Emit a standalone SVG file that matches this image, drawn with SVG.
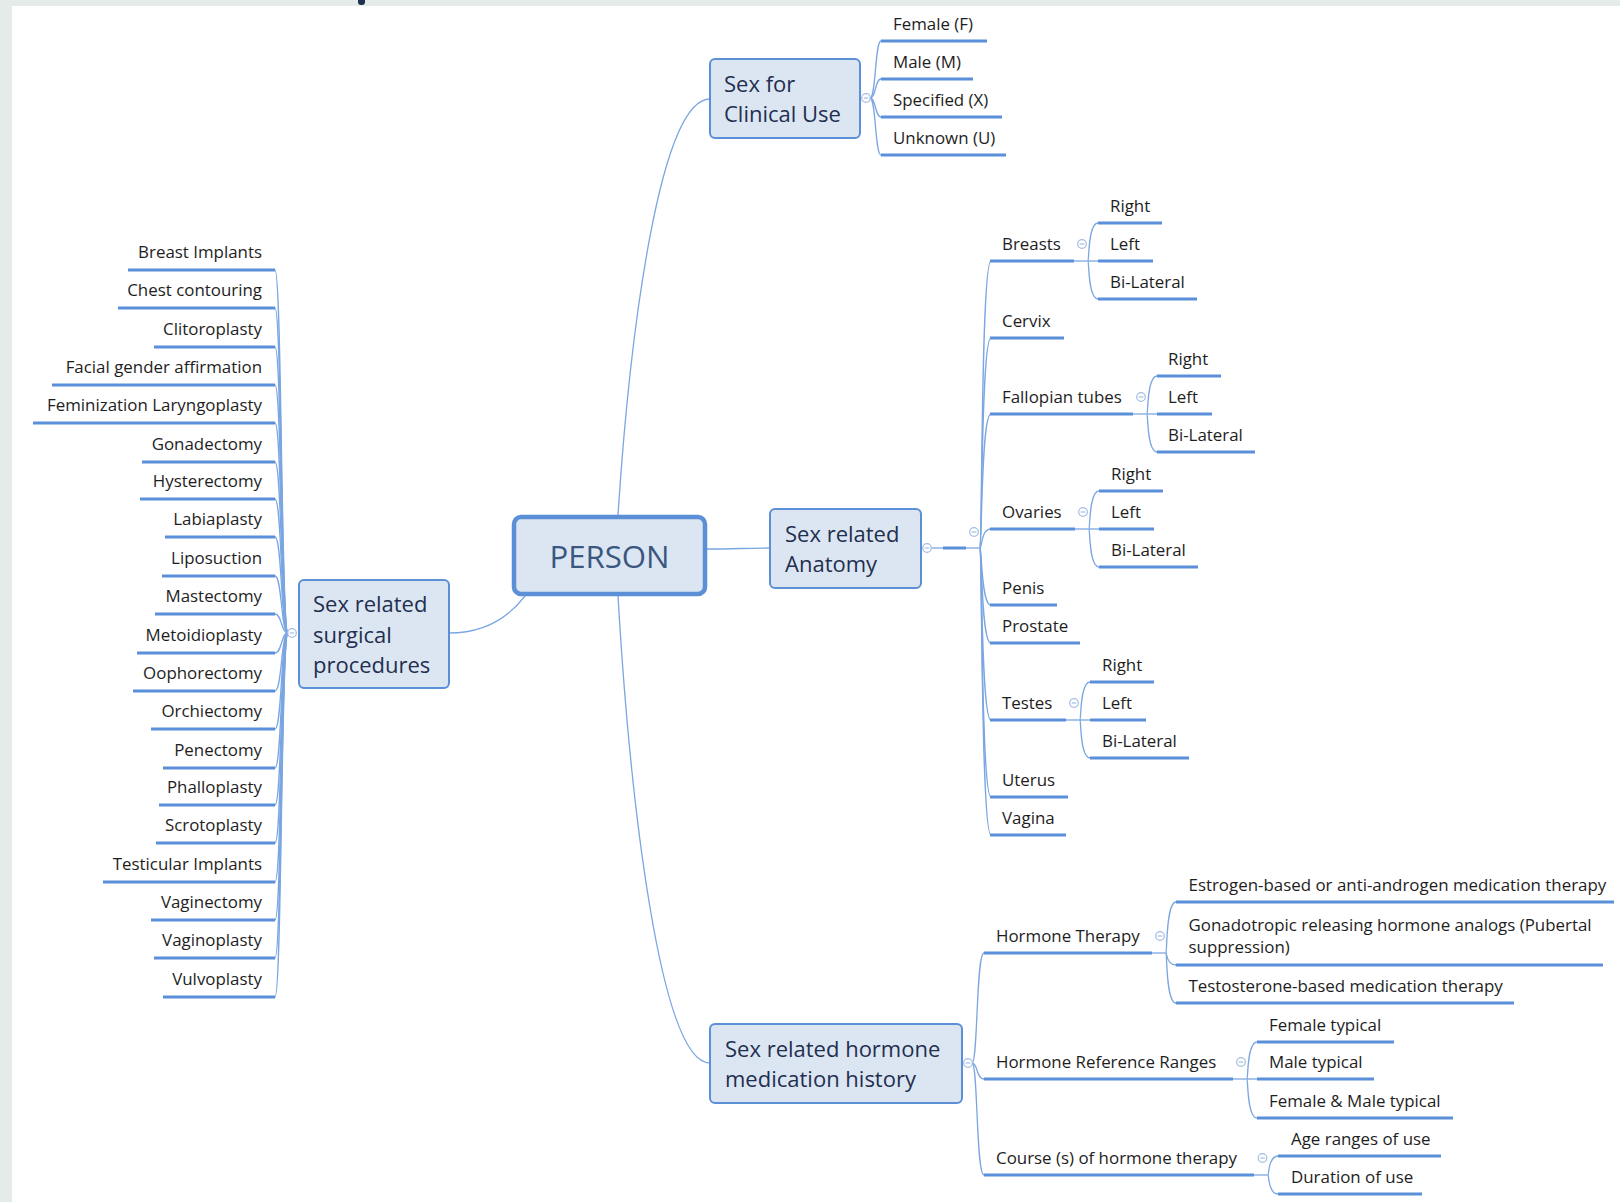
<svg xmlns="http://www.w3.org/2000/svg" xmlns:xlink="http://www.w3.org/1999/xlink" width="1620" height="1202" viewBox="0 0 1620 1202">
<style>
.box{fill:#dce6f2;stroke:#5b8fd6;stroke-width:2}
.root{fill:#dce6f2;stroke:#5b8fd6;stroke-width:4.5}
.nt{font-family:"Open Sans","Liberation Sans",sans-serif;font-size:22px;fill:#1f2f4f}
.rt{font-family:"Open Sans","Liberation Sans",sans-serif;font-size:31.2px;fill:#3a5780}
.lt{font-family:"Open Sans","Liberation Sans",sans-serif;font-size:16.9px;fill:#1e1e1e}
.lt.r{text-anchor:end}
.ul{stroke:#5b8fd9;stroke-width:3;fill:none}
.cn{stroke:#7aa6e2;stroke-width:1.3;fill:none}
.tg circle{fill:#fff;stroke:#a3bde3;stroke-width:1.2}
.tg line{stroke:#a3bde3;stroke-width:1.2}
</style>
<defs>
<g id="tog" class="tg"><circle cx="0" cy="0" r="4.3"/><line x1="-2.3" y1="0" x2="2.3" y2="0"/></g>
</defs>
<rect x="0" y="0" width="1620" height="1202" fill="#e5ebe8"/>
<rect x="12" y="6" width="1608" height="1196" fill="#ffffff"/>
<rect x="358" y="-3" width="7" height="8" rx="3" fill="#1f3050"/>

<g id="connectors">
<path class="cn" d="M618,515 C630,330 660,99 710,99"/>
<path class="cn" d="M707,549 C735,549 745,548 770,548"/>
<path class="cn" d="M618,596 C630,800 660,1063 710,1063"/>
<path class="cn" d="M525,596 C505,622 480,633 449,633"/>
<path class="cn" d="M288,633 C281,633 282,270 275,270"/>
<path class="cn" d="M288,633 C281,633 282,308 275,308"/>
<path class="cn" d="M288,633 C281,633 282,347 275,347"/>
<path class="cn" d="M288,633 C281,633 282,385 275,385"/>
<path class="cn" d="M288,633 C281,633 282,423 275,423"/>
<path class="cn" d="M288,633 C281,633 282,462 275,462"/>
<path class="cn" d="M288,633 C281,633 282,499 275,499"/>
<path class="cn" d="M288,633 C281,633 282,537 275,537"/>
<path class="cn" d="M288,633 C281,633 282,576 275,576"/>
<path class="cn" d="M288,633 C281,633 282,614 275,614"/>
<path class="cn" d="M288,633 C281,633 282,653 275,653"/>
<path class="cn" d="M288,633 C281,633 282,691 275,691"/>
<path class="cn" d="M288,633 C281,633 282,729 275,729"/>
<path class="cn" d="M288,633 C281,633 282,768 275,768"/>
<path class="cn" d="M288,633 C281,633 282,805 275,805"/>
<path class="cn" d="M288,633 C281,633 282,843 275,843"/>
<path class="cn" d="M288,633 C281,633 282,882 275,882"/>
<path class="cn" d="M288,633 C281,633 282,920 275,920"/>
<path class="cn" d="M288,633 C281,633 282,958 275,958"/>
<path class="cn" d="M288,633 C281,633 282,997 275,997"/>
<path class="cn" d="M870,98 C876,98 875,41 881,41"/>
<path class="cn" d="M870,98 C876,98 875,79 881,79"/>
<path class="cn" d="M870,98 C876,98 875,117 881,117"/>
<path class="cn" d="M870,98 C876,98 875,155 881,155"/>
<path class="cn" d="M931,548 L943,548"/>
<path class="ul" d="M943,548 L966,548"/>
<path class="cn" d="M966,548 L980,548"/>
<path class="cn" d="M980,548 C982,548 981,261 991,261"/>
<path class="cn" d="M980,548 C982,548 981,338 991,338"/>
<path class="cn" d="M980,548 C982,548 981,414 991,414"/>
<path class="cn" d="M980,548 C982,548 981,529 991,529"/>
<path class="cn" d="M980,548 C982,548 981,605 991,605"/>
<path class="cn" d="M980,548 C982,548 981,643 991,643"/>
<path class="cn" d="M980,548 C982,548 981,720 991,720"/>
<path class="cn" d="M980,548 C982,548 981,797 991,797"/>
<path class="cn" d="M980,548 C982,548 981,835 991,835"/>
<path class="cn" d="M1074,261 L1088,261"/>
<path class="cn" d="M1088,261 C1089,261 1088,223 1098,223"/>
<path class="cn" d="M1088,261 L1098,261"/>
<path class="cn" d="M1088,261 C1089,261 1088,299 1098,299"/>
<path class="cn" d="M1133,414 L1147,414"/>
<path class="cn" d="M1147,414 C1148,414 1147,376 1157,376"/>
<path class="cn" d="M1147,414 L1157,414"/>
<path class="cn" d="M1147,414 C1148,414 1147,452 1157,452"/>
<path class="cn" d="M1075,529 L1089,529"/>
<path class="cn" d="M1089,529 C1090,529 1089,491 1099,491"/>
<path class="cn" d="M1089,529 L1099,529"/>
<path class="cn" d="M1089,529 C1090,529 1089,567 1099,567"/>
<path class="cn" d="M1066,720 L1080,720"/>
<path class="cn" d="M1080,720 C1081,720 1080,682 1090,682"/>
<path class="cn" d="M1080,720 L1090,720"/>
<path class="cn" d="M1080,720 C1081,720 1080,758 1090,758"/>
<path class="cn" d="M972,1063 C978,1063 976,953 984,953"/>
<path class="cn" d="M972,1063 C978,1063 976,1079 984,1079"/>
<path class="cn" d="M972,1063 C978,1063 976,1175 984,1175"/>
<path class="cn" d="M1152,953 L1166,953"/>
<path class="cn" d="M1166,953 C1167,953 1166,902 1176,902"/>
<path class="cn" d="M1166,953 C1167,953 1166,965 1176,965"/>
<path class="cn" d="M1166,953 C1167,953 1166,1003 1176,1003"/>
<path class="cn" d="M1233,1079 L1247,1079"/>
<path class="cn" d="M1247,1079 C1248,1079 1247,1042 1257,1042"/>
<path class="cn" d="M1247,1079 L1257,1079"/>
<path class="cn" d="M1247,1079 C1248,1079 1247,1118 1257,1118"/>
<path class="cn" d="M1254,1175 L1268,1175"/>
<path class="cn" d="M1268,1175 C1269,1175 1268,1156 1278,1156"/>
<path class="cn" d="M1268,1175 C1269,1175 1268,1194 1278,1194"/>
</g>

<g id="person">
<rect class="root" x="514" y="517" width="191" height="77" rx="7"/>
<text class="rt" x="609.5" y="567.5" text-anchor="middle">PERSON</text>
</g>

<g id="clinical">
<rect class="box" x="710" y="59" width="150" height="79" rx="5"/>
<text class="nt" x="724" y="92">Sex for</text>
<text class="nt" x="724" y="122">Clinical Use</text>
<use xlink:href="#tog" x="866" y="98"/>
</g>
<g id="clin-f"><path class="ul" d="M881,41 H987"/><text class="lt" x="893" y="29.5">Female (F)</text></g>
<g id="clin-m"><path class="ul" d="M881,79 H973"/><text class="lt" x="893" y="67.5">Male (M)</text></g>
<g id="clin-x"><path class="ul" d="M881,117 H1002"/><text class="lt" x="893" y="105.5">Specified (X)</text></g>
<g id="clin-u"><path class="ul" d="M881,155 H1006"/><text class="lt" x="893" y="143.5">Unknown (U)</text></g>

<g id="anatomy">
<rect class="box" x="770" y="509" width="151" height="79" rx="5"/>
<text class="nt" x="785" y="542">Sex related</text>
<text class="nt" x="785" y="572">Anatomy</text>
<use xlink:href="#tog" x="927" y="548"/>
<use xlink:href="#tog" x="974" y="532"/>
</g>
<g id="breasts"><path class="ul" d="M990,261 H1074"/><text class="lt" x="1002" y="249.5">Breasts</text><use xlink:href="#tog" x="1082" y="244"/></g>
<g id="breasts-r"><path class="ul" d="M1098,223 H1162"/><text class="lt" x="1110" y="211.5">Right</text></g>
<g id="breasts-l"><path class="ul" d="M1098,261 H1153"/><text class="lt" x="1110" y="249.5">Left</text></g>
<g id="breasts-b"><path class="ul" d="M1098,299 H1197"/><text class="lt" x="1110" y="287.5">Bi-Lateral</text></g>
<g id="cervix"><path class="ul" d="M990,338 H1064"/><text class="lt" x="1002" y="326.5">Cervix</text></g>
<g id="fallopian"><path class="ul" d="M990,414 H1133"/><text class="lt" x="1002" y="402.5">Fallopian tubes</text><use xlink:href="#tog" x="1141" y="397"/></g>
<g id="fallopian-r"><path class="ul" d="M1157,376 H1221"/><text class="lt" x="1168" y="364.5">Right</text></g>
<g id="fallopian-l"><path class="ul" d="M1157,414 H1212"/><text class="lt" x="1168" y="402.5">Left</text></g>
<g id="fallopian-b"><path class="ul" d="M1157,452 H1255"/><text class="lt" x="1168" y="440.5">Bi-Lateral</text></g>
<g id="ovaries"><path class="ul" d="M990,529 H1075"/><text class="lt" x="1002" y="517.5">Ovaries</text><use xlink:href="#tog" x="1083" y="512"/></g>
<g id="ovaries-r"><path class="ul" d="M1099,491 H1163"/><text class="lt" x="1111" y="479.5">Right</text></g>
<g id="ovaries-l"><path class="ul" d="M1099,529 H1154"/><text class="lt" x="1111" y="517.5">Left</text></g>
<g id="ovaries-b"><path class="ul" d="M1099,567 H1198"/><text class="lt" x="1111" y="555.5">Bi-Lateral</text></g>
<g id="penis"><path class="ul" d="M990,605 H1057"/><text class="lt" x="1002" y="593.5">Penis</text></g>
<g id="prostate"><path class="ul" d="M990,643 H1080"/><text class="lt" x="1002" y="631.5">Prostate</text></g>
<g id="testes"><path class="ul" d="M990,720 H1066"/><text class="lt" x="1002" y="708.5">Testes</text><use xlink:href="#tog" x="1074" y="703"/></g>
<g id="testes-r"><path class="ul" d="M1090,682 H1154"/><text class="lt" x="1102" y="670.5">Right</text></g>
<g id="testes-l"><path class="ul" d="M1090,720 H1146"/><text class="lt" x="1102" y="708.5">Left</text></g>
<g id="testes-b"><path class="ul" d="M1090,758 H1189"/><text class="lt" x="1102" y="746.5">Bi-Lateral</text></g>
<g id="uterus"><path class="ul" d="M990,797 H1068"/><text class="lt" x="1002" y="785.5">Uterus</text></g>
<g id="vagina"><path class="ul" d="M990,835 H1066"/><text class="lt" x="1002" y="823.5">Vagina</text></g>

<g id="surgical">
<rect class="box" x="299" y="580" width="150" height="108" rx="5"/>
<text class="nt" x="313" y="612">Sex related</text>
<text class="nt" x="313" y="642.5">surgical</text>
<text class="nt" x="313" y="673">procedures</text>
<use xlink:href="#tog" x="292" y="633"/>
</g>
<g id="s01"><path class="ul" d="M128,270 H275"/><text class="lt r" x="262" y="258">Breast Implants</text></g>
<g id="s02"><path class="ul" d="M118,308 H275"/><text class="lt r" x="262" y="296">Chest contouring</text></g>
<g id="s03"><path class="ul" d="M154,347 H275"/><text class="lt r" x="262" y="335">Clitoroplasty</text></g>
<g id="s04"><path class="ul" d="M52,385 H275"/><text class="lt r" x="262" y="373">Facial gender affirmation</text></g>
<g id="s05"><path class="ul" d="M33,423 H275"/><text class="lt r" x="262" y="411">Feminization Laryngoplasty</text></g>
<g id="s06"><path class="ul" d="M142,462 H275"/><text class="lt r" x="262" y="450">Gonadectomy</text></g>
<g id="s07"><path class="ul" d="M140,499 H275"/><text class="lt r" x="262" y="487">Hysterectomy</text></g>
<g id="s08"><path class="ul" d="M165,537 H275"/><text class="lt r" x="262" y="525">Labiaplasty</text></g>
<g id="s09"><path class="ul" d="M162,576 H275"/><text class="lt r" x="262" y="564">Liposuction</text></g>
<g id="s10"><path class="ul" d="M155,614 H275"/><text class="lt r" x="262" y="602">Mastectomy</text></g>
<g id="s11"><path class="ul" d="M137,653 H275"/><text class="lt r" x="262" y="641">Metoidioplasty</text></g>
<g id="s12"><path class="ul" d="M133,691 H275"/><text class="lt r" x="262" y="679">Oophorectomy</text></g>
<g id="s13"><path class="ul" d="M151,729 H275"/><text class="lt r" x="262" y="717">Orchiectomy</text></g>
<g id="s14"><path class="ul" d="M163,768 H275"/><text class="lt r" x="262" y="756">Penectomy</text></g>
<g id="s15"><path class="ul" d="M159,805 H275"/><text class="lt r" x="262" y="793">Phalloplasty</text></g>
<g id="s16"><path class="ul" d="M156,843 H275"/><text class="lt r" x="262" y="831">Scrotoplasty</text></g>
<g id="s17"><path class="ul" d="M103,882 H275"/><text class="lt r" x="262" y="870">Testicular Implants</text></g>
<g id="s18"><path class="ul" d="M151,920 H275"/><text class="lt r" x="262" y="908">Vaginectomy</text></g>
<g id="s19"><path class="ul" d="M154,958 H275"/><text class="lt r" x="262" y="946">Vaginoplasty</text></g>
<g id="s20"><path class="ul" d="M163,997 H275"/><text class="lt r" x="262" y="985">Vulvoplasty</text></g>

<g id="hormone">
<rect class="box" x="710" y="1024" width="252" height="79" rx="5"/>
<text class="nt" x="725" y="1057">Sex related hormone</text>
<text class="nt" x="725" y="1087">medication history</text>
<use xlink:href="#tog" x="968" y="1063"/>
</g>
<g id="h-therapy"><path class="ul" d="M984,953 H1152"/><text class="lt" x="996" y="941.5">Hormone Therapy</text><use xlink:href="#tog" x="1160" y="936"/></g>
<g id="h-estrogen"><path class="ul" d="M1176,902 H1614"/><text class="lt" x="1188.5" y="890.5">Estrogen-based or anti-androgen medication therapy</text></g>
<g id="h-gnrh"><path class="ul" d="M1176,965 H1603"/><text class="lt" x="1188.5" y="930.5">Gonadotropic releasing hormone analogs (Pubertal</text><text class="lt" x="1188.5" y="952.5">suppression)</text></g>
<g id="h-testo"><path class="ul" d="M1176,1003 H1514"/><text class="lt" x="1188.5" y="991.5">Testosterone-based medication therapy</text></g>
<g id="h-ranges"><path class="ul" d="M984,1079 H1233"/><text class="lt" x="996" y="1067.5">Hormone Reference Ranges</text><use xlink:href="#tog" x="1241" y="1062"/></g>
<g id="h-female"><path class="ul" d="M1257,1042 H1394"/><text class="lt" x="1269" y="1030.5">Female typical</text></g>
<g id="h-male"><path class="ul" d="M1257,1079 H1374"/><text class="lt" x="1269" y="1067.5">Male typical</text></g>
<g id="h-fm"><path class="ul" d="M1257,1118 H1453"/><text class="lt" x="1269" y="1106.5">Female &amp; Male typical</text></g>
<g id="h-course"><path class="ul" d="M984,1175 H1254"/><text class="lt" x="996" y="1163.5">Course (s) of hormone therapy</text><use xlink:href="#tog" x="1262.5" y="1158"/></g>
<g id="h-age"><path class="ul" d="M1278,1156 H1441"/><text class="lt" x="1291" y="1144.5">Age ranges of use</text></g>
<g id="h-duration"><path class="ul" d="M1278,1194 H1422"/><text class="lt" x="1291" y="1182.5">Duration of use</text></g>
</svg>
